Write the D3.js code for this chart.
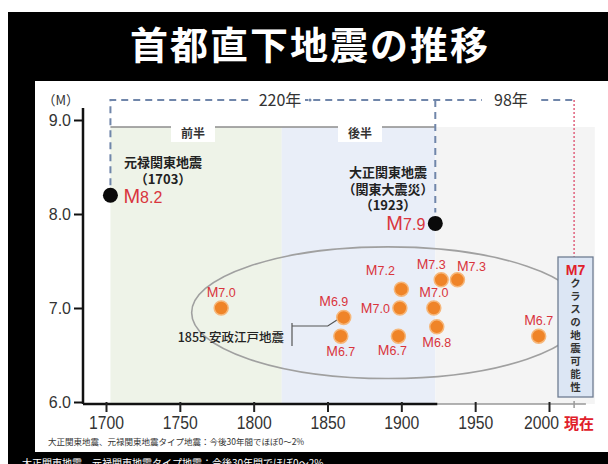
<!DOCTYPE html>
<html>
<head>
<meta charset="utf-8">
<script src="https://cdn.jsdelivr.net/npm/d3@7"></script>
<style>
  body { margin: 0; background: #fff; }
  svg { display: block; }
</style>
</head>
<body>
<svg></svg>
<script>
// big Kanto quakes (black dots)
var bigYears = [1703, 1923];
var bigMags = [8.2, 7.9];
var bigNames = [["元禄関東地震", "（1703）"], ["大正関東地震", "（関東大震災）", "（1923）"]];

// M7 class quakes (orange dots)
var quakeYears = [1778, 1859, 1861, 1898, 1899, 1900, 1922, 1924, 1927, 1938, 1993];
var quakeMags = [7.0, 6.7, 6.9, 6.7, 7.0, 7.2, 7.0, 6.8, 7.3, 7.3, 6.7];
var labelSpots = ["above", "below", "aboveLeft", "belowLeft", "left", "upLeft", "above", "below", "aboveLeft", "aboveRight", "above"];

var xTicks = [1700, 1750, 1800, 1850, 1900, 1950, 2000];
var yTicks = [6, 7, 8, 9];
var eraStarts = [1703, 1819, 1923];
var eraEnds = [1819, 1923, 2031];
var eraNames = ["前半", "後半", ""];
var presentYear = 2017;
var boxText = "クラスの地震可能性";

var W = 608, H = 464;
var jp = "'Noto Sans CJK JP', sans-serif";
var num = "'Liberation Sans', Arial, sans-serif";
var red = "#d9353d";

var svg = d3.select("svg").attr("width", W).attr("height", H);

var x = d3.scaleLinear().domain([1700, 2000]).range([106, 549]);
var y = d3.scaleLinear().domain([6, 9]).range([402, 120]);
var axisY = 404, axisX = 83;

// frame
svg.append("rect").attr("width", W).attr("height", H).attr("fill", "#fff");
svg.append("rect").attr("x", 8).attr("y", 12).attr("width", W - 8).attr("height", H - 12).attr("fill", "#000");
svg.append("rect").attr("x", 35).attr("y", 81).attr("width", W - 35).attr("height", 371).attr("fill", "#fff");

svg.append("text")
    .attr("x", 310).attr("y", 59)
    .attr("text-anchor", "middle")
    .attr("fill", "#fff")
    .attr("font-family", jp).attr("font-weight", 700)
    .attr("font-size", 38).attr("letter-spacing", 2)
    .text("首都直下地震の推移");

// era bands
var bandColors = ["#eef3e8", "#e9eef8", "#f4f4f4"];
eraStarts.forEach(function(s, i) {
  svg.append("rect")
      .attr("x", x(s)).attr("y", 127)
      .attr("width", x(eraEnds[i]) - x(s))
      .attr("height", axisY - 127)
      .attr("fill", bandColors[i]);
});

// era line with labels
svg.append("line")
    .attr("x1", x(1703)).attr("x2", x(1923))
    .attr("y1", 127).attr("y2", 127)
    .attr("stroke", "#8c8c8c").attr("stroke-width", 1.3);
eraNames.forEach(function(n, i) {
  if (!n) return;
  var cx = i == 0 ? 193 : 360;
  svg.append("rect").attr("x", cx - 22).attr("y", 124).attr("width", 44).attr("height", 18).attr("fill", "#fff");
  svg.append("text")
      .attr("x", cx).attr("y", 138)
      .attr("text-anchor", "middle")
      .attr("font-family", jp).attr("font-size", 12).attr("font-weight", 700)
      .attr("fill", "#333")
      .text(n);
});

// interval brackets
var dashColor = "#7086aa";
svg.append("path")
    .attr("d", "M" + x(bigYears[0]) + "," + (y(bigMags[0]) - 10) + "V100H" + x(presentYear))
    .attr("fill", "none").attr("stroke", dashColor).attr("stroke-width", 2).attr("stroke-dasharray", "7,5");
svg.append("path")
    .attr("d", "M" + x(bigYears[1]) + ",100V" + (y(bigMags[1]) - 11))
    .attr("fill", "none").attr("stroke", dashColor).attr("stroke-width", 2).attr("stroke-dasharray", "7,5");
svg.append("line")
    .attr("x1", x(presentYear)).attr("x2", x(presentYear))
    .attr("y1", 100).attr("y2", 257)
    .attr("stroke", "#e0607c").attr("stroke-width", 1.5).attr("stroke-dasharray", "2,2");

svg.append("rect").attr("x", 249).attr("y", 90).attr("width", 56).attr("height", 20).attr("fill", "#fff");
svg.append("text").attr("x", 280).attr("y", 106).attr("text-anchor", "middle")
    .attr("font-family", jp).attr("font-size", 16).attr("fill", "#333").text("220年");
svg.append("circle").attr("cx", 310).attr("cy", 100).attr("r", 1.5).attr("fill", dashColor);
svg.append("rect").attr("x", 482).attr("y", 90).attr("width", 58).attr("height", 20).attr("fill", "#fff");
svg.append("text").attr("x", 511).attr("y", 106).attr("text-anchor", "middle")
    .attr("font-family", jp).attr("font-size", 16).attr("fill", "#333").text("98年");

// ellipse round the M7 class quakes
svg.append("ellipse")
    .attr("cx", x(1891)).attr("cy", y(6.95))
    .attr("rx", x(1891) - x(1758)).attr("ry", y(6.25) - y(6.95))
    .attr("fill", "none").attr("stroke", "#a0a0a0").attr("stroke-width", 1.6);

// axes
svg.append("line")
    .attr("x1", axisX).attr("x2", axisX).attr("y1", 108).attr("y2", axisY)
    .attr("stroke", "#111").attr("stroke-width", 2.5);
svg.append("line")
    .attr("x1", x(1923)).attr("x2", x(2025)).attr("y1", axisY).attr("y2", axisY)
    .attr("stroke", "#999").attr("stroke-width", 1.6);
svg.append("line")
    .attr("x1", axisX).attr("x2", x(1923) + 2).attr("y1", axisY).attr("y2", axisY)
    .attr("stroke", "#111").attr("stroke-width", 2.5);

var yAxis = svg.append("g")
    .attr("transform", "translate(" + axisX + ",0)")
    .call(d3.axisLeft(y).tickValues(yTicks).tickFormat(d3.format(".1f")).tickSize(9).tickPadding(3));
yAxis.select(".domain").remove();
yAxis.selectAll("line").attr("stroke", "#111").attr("stroke-width", 2);
yAxis.selectAll("text").attr("font-family", num).attr("font-size", 16).attr("fill", "#333");

var xAxis = svg.append("g")
    .attr("transform", "translate(0," + axisY + ")")
    .call(d3.axisBottom(x).tickValues(xTicks).tickFormat(d3.format("d")).tickSize(8).tickPadding(4));
xAxis.select(".domain").remove();
xAxis.selectAll("line").attr("stroke", "#222").attr("stroke-width", 2).attr("y1", -2);
xAxis.selectAll("text")
    .attr("font-family", num).attr("font-size", 19).attr("fill", "#333")
    .attr("textLength", 35).attr("lengthAdjust", "spacingAndGlyphs")
    .attr("dx", function(d) { return d == 2000 ? -8 : 0; });

svg.append("line")
    .attr("x1", x(presentYear)).attr("x2", x(presentYear))
    .attr("y1", axisY - 3).attr("y2", axisY + 4)
    .attr("stroke", "#999").attr("stroke-width", 1.5);
svg.append("text").attr("x", 564).attr("y", 429)
    .attr("font-family", jp).attr("font-size", 15).attr("font-weight", 700)
    .attr("fill", "#e0202a").text("現在");

svg.append("text").attr("x", 79).attr("y", 105).attr("text-anchor", "end")
    .attr("font-family", jp).attr("font-size", 13).attr("fill", "#333").text("（M）");

// 1855 annotation
var ansei = 2;
var ax = x(quakeYears[ansei]), ay = y(quakeMags[ansei]);
svg.append("path")
    .attr("d", "M292,323V346M292,326H" + (ax - 16) + "L" + (ax - 6) + "," + (ay + 2))
    .attr("fill", "none").attr("stroke", "#555").attr("stroke-width", 1.2);
svg.append("text").attr("x", 284).attr("y", 342).attr("text-anchor", "end")
    .attr("font-family", jp).attr("font-size", 12.5).attr("font-weight", 500)
    .attr("fill", "#222").text("1855 安政江戸地震");

function magLabel(g, px, py, anchor, mag, big) {
  var t = g.append("text")
      .attr("x", px).attr("y", py)
      .attr("text-anchor", anchor)
      .attr("font-family", num).attr("fill", red);
  t.append("tspan").attr("font-size", big ? 20 : 14).text("M");
  t.append("tspan").attr("font-size", big ? 16 : 12.5).text(mag.toFixed(1));
}

// orange dots
var spotOffset = {
  above: [0, -11, "middle"],
  below: [0, 20, "middle"],
  belowLeft: [-6, 19, "middle"],
  aboveLeft: [-10, -11, "middle"],
  upLeft: [-21, -14, "middle"],
  left: [-10, 5, "end"],
  aboveRight: [14, -9, "middle"]
};
var dots = svg.append("g");
quakeYears.forEach(function(yr, i) {
  var cx = x(yr), cy = y(quakeMags[i]);
  dots.append("circle")
      .attr("cx", cx).attr("cy", cy).attr("r", 7)
      .attr("fill", "#ef8428").attr("stroke", "#f6b77a").attr("stroke-width", 1.5);
  var o = spotOffset[labelSpots[i]];
  magLabel(dots, cx + o[0], cy + o[1], o[2], quakeMags[i], false);
});

// big quakes
bigYears.forEach(function(yr, i) {
  var cx = x(yr), cy = y(bigMags[i]);
  svg.append("circle").attr("cx", cx).attr("cy", cy).attr("r", 7.5).attr("fill", "#0a0a0a");
  var tx = i == 0 ? 163 : 388;
  var top = i == 0 ? 167 : 177;
  var name = svg.append("text")
      .attr("x", tx).attr("y", top)
      .attr("text-anchor", "middle")
      .attr("font-family", jp).attr("font-size", 13).attr("font-weight", 700)
      .attr("fill", "#222");
  bigNames[i].forEach(function(s, j) {
    name.append("tspan").attr("x", tx).attr("dy", j == 0 ? 0 : 16.5).text(s);
  });
  if (i == 0) magLabel(svg, cx + 13, cy + 8, "start", bigMags[i], true);
  else magLabel(svg, cx - 10, cy + 7, "end", bigMags[i], true);
});

// M7 class possibility box
svg.append("rect")
    .attr("x", 558).attr("y", 257).attr("width", 35).attr("height", 140)
    .attr("fill", "#dce6f4").attr("stroke", "#6f7d92").attr("stroke-width", 1.3);
svg.append("text").attr("x", 575.5).attr("y", 275).attr("text-anchor", "middle")
    .attr("font-family", num).attr("font-size", 14).attr("font-weight", 700)
    .attr("fill", "#e0202a").text("M7");
svg.append("text")
    .attr("x", 575.5).attr("y", 278)
    .style("writing-mode", "vertical-rl")
    .attr("font-family", jp).attr("font-size", 10.5).attr("font-weight", 700)
    .attr("letter-spacing", 2.5)
    .attr("fill", "#333")
    .text(boxText);

// footnotes
svg.append("text").attr("x", 48).attr("y", 445)
    .attr("font-family", jp).attr("font-size", 8.5).attr("fill", "#333")
    .text("大正関東地震、元禄関東地震タイプ地震：今後30年間でほぼ0～2%");
svg.append("text").attr("x", 22).attr("y", 467)
    .attr("font-family", jp).attr("font-size", 10).attr("fill", "#fff")
    .text("大正関東地震、元禄関東地震タイプ地震：今後30年間でほぼ0～2%");
</script>
</body>
</html>
